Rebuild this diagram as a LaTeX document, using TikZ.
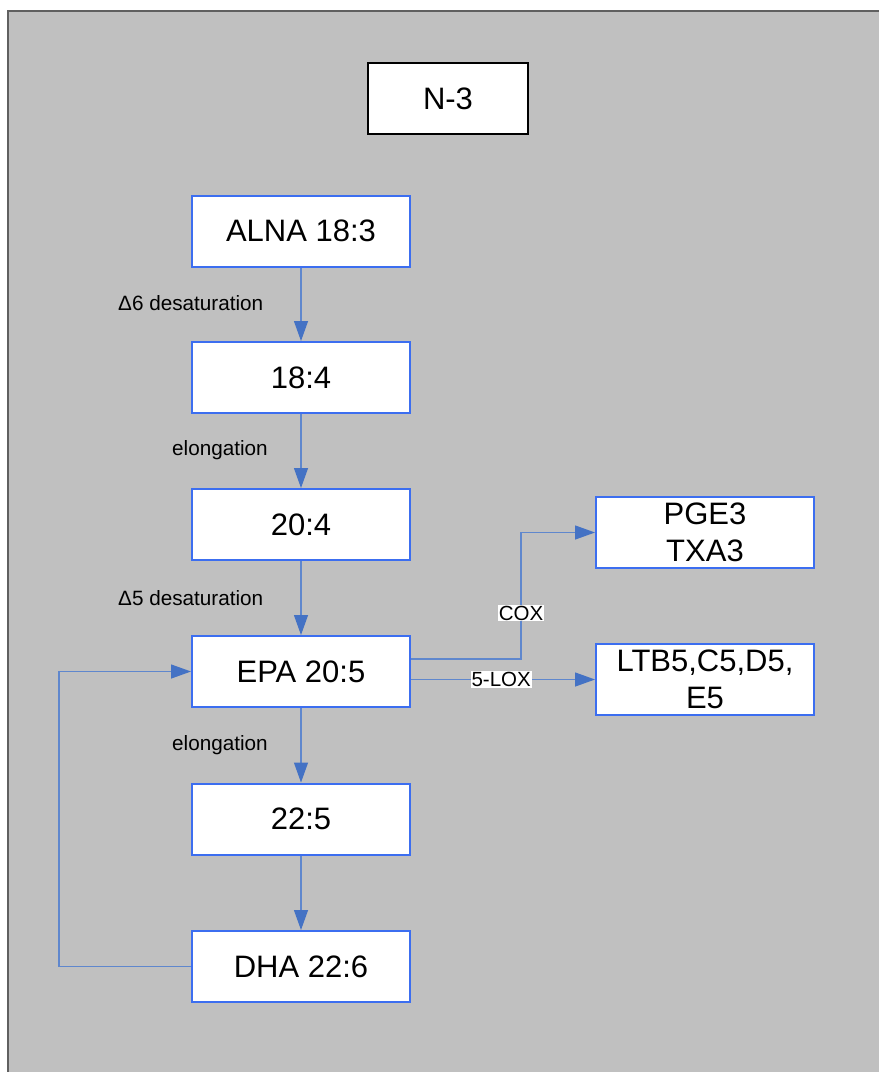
\documentclass[tikz,border=0pt]{standalone}
\usepackage{fontspec}
\setmainfont{Liberation Sans}
\usetikzlibrary{arrows.meta}
\definecolor{bg}{RGB}{192,192,192}
\definecolor{framegray}{RGB}{96,96,96}
\definecolor{boxblue}{RGB}{60,110,240}
\definecolor{linkblue}{RGB}{95,135,205}
\definecolor{headblue}{RGB}{68,114,196}
\begin{document}
\begin{tikzpicture}[x=1pt,y=-1pt,
  stepbox/.style={draw=boxblue, fill=white, line width=2pt, minimum width=218pt, minimum height=71pt, inner sep=0pt, font=\fontsize{31}{37}\selectfont, align=center},
  titlebox/.style={draw=black, fill=white, line width=2pt, minimum width=160pt, minimum height=71pt, inner sep=0pt, font=\fontsize{31}{37}\selectfont},
  link/.style={draw=linkblue, line width=1.3pt, -{Triangle[length=20pt,width=14pt,color=headblue]}},
  lab/.style={font=\fontsize{20.7}{24}\selectfont, text=black, inner sep=0pt},
  edgelab/.style={font=\fontsize{20.5}{24}\selectfont, text=black, fill=white, inner sep=1pt}
]
\useasboundingbox (0,0) rectangle (879,1072);
\fill[bg] (8,11) rectangle (895,1085);
\draw[framegray, line width=2pt] (8,1085) -- (8,11) -- (895,11);

\node[titlebox] (n3) at (448,98.5) {N-3};
\node[stepbox] (alna) at (301,231) {ALNA 18:3};
\node[stepbox] (s184) at (301,377.5) {18:4};
\node[stepbox] (s204) at (301,524.5) {20:4};
\node[stepbox] (epa) at (301,671.5) {EPA 20:5};
\node[stepbox] (s225) at (301,819) {22:5};
\node[stepbox] (dha) at (301,966.5) {DHA 22:6};
\node[stepbox] (pge) at (705,532.5) {PGE3\\TXA3};
\node[stepbox] (ltb) at (705,679.5) {LTB5,C5,D5,\\E5};

\node[lab, anchor=west] (l1) at (118,303) {Δ6 desaturation};
\node[lab, anchor=west] (l2) at (172,450) {elongation};
\node[lab, anchor=west] (l3) at (118,598) {Δ5 desaturation};
\node[lab, anchor=west] (l4) at (172,745) {elongation};

\draw[link] (alna) -- (s184);
\draw[link] (s184) -- (s204);
\draw[link] (s204) -- (epa);
\draw[link] (epa) -- (s225);
\draw[link] (s225) -- (dha);

\coordinate (coxbend) at (521,0);
\draw[link] ([yshift=12.5pt]epa.east) -| (coxbend |- pge.west) -- (pge.west);
\node[edgelab] (cox) at (521,613) {COX};
\draw[link] (epa.east |- ltb.west) -- (ltb.west) node[edgelab, pos=0.49] (lox) {5-LOX};

\coordinate (loopcorner) at (59,0);
\draw[link] (dha.west) -- (loopcorner |- dha.west) |- (epa.west);
\end{tikzpicture}
\end{document}
